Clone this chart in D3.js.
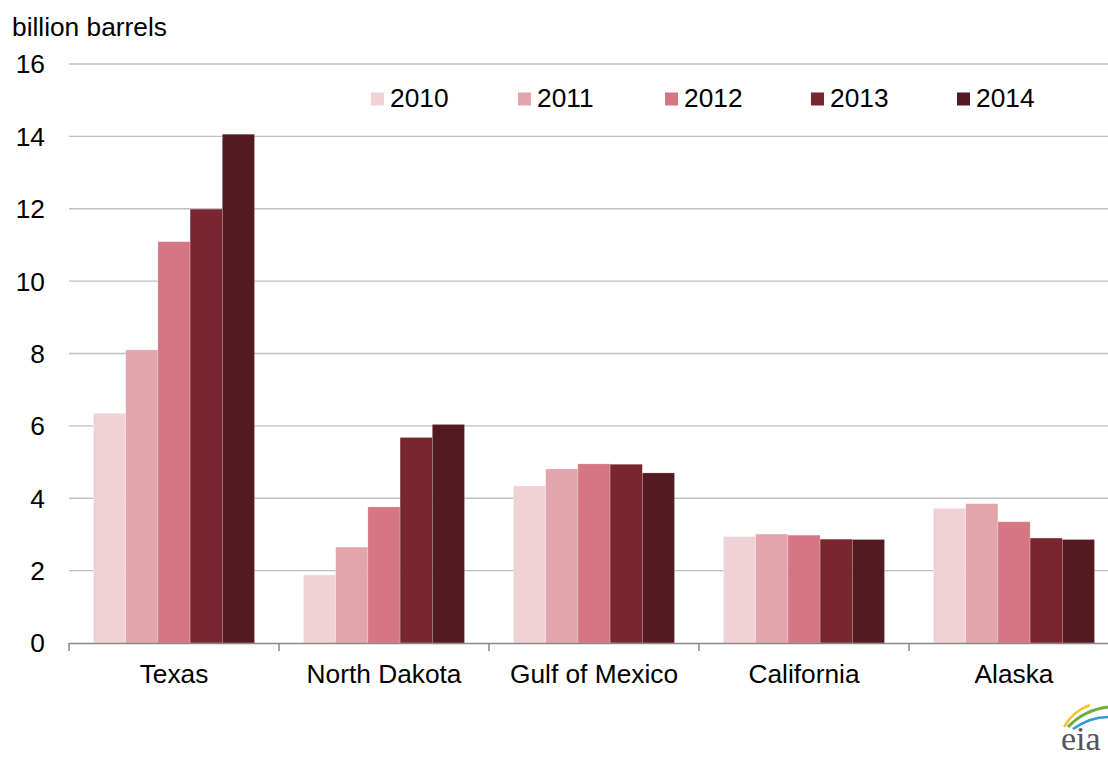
<!DOCTYPE html>
<html>
<head>
<meta charset="utf-8">
<script src="https://cdn.jsdelivr.net/npm/d3@7"></script>
<style>
  html, body { margin: 0; padding: 0; background: #fff; }
  svg { display: block; font-family: "Liberation Sans", Arial, sans-serif; }
</style>
</head>
<body>
<svg id="chart" width="1108" height="757"></svg>
<script>
const categories = ["Texas", "North Dakota", "Gulf of Mexico", "California", "Alaska"];
const years = ["2010", "2011", "2012", "2013", "2014"];
const v2010 = [6.35, 1.88, 4.34, 2.94, 3.72];
const v2011 = [8.10, 2.65, 4.81, 3.01, 3.85];
const v2012 = [11.09, 3.76, 4.95, 2.98, 3.35];
const v2013 = [11.99, 5.68, 4.94, 2.87, 2.90];
const v2014 = [14.06, 6.04, 4.70, 2.86, 2.86];
const seriesValues = [v2010, v2011, v2012, v2013, v2014];
const colors = ["#F0D1D6", "#E2A5AC", "#D57782", "#7A2631", "#541A21"];
const yTicks = [0, 2, 4, 6, 8, 10, 12, 14, 16];
const yLabel = "billion barrels";

const svg = d3.select("#chart");
const FS = 26.3;

const y = d3.scaleLinear().domain([0, 16]).range([643, 64]);
const x0 = d3.scaleBand().domain(categories).range([69, 1119]).paddingInner(0).paddingOuter(0);
const x1 = d3.scaleBand().domain(years).range([24.5, 210 - 24.5]).padding(0);

// gridlines
svg.append("g").selectAll("line").data(yTicks.filter(d => d > 0)).join("line")
  .attr("x1", 69).attr("x2", 1108)
  .attr("y1", d => y(d)).attr("y2", d => y(d))
  .attr("stroke", "#C0C0C0").attr("stroke-width", 1.4);

// y tick labels
svg.append("g").selectAll("text").data(yTicks).join("text")
  .attr("x", 45).attr("y", d => y(d)).attr("dy", "0.36em")
  .attr("text-anchor", "end").attr("font-size", FS).attr("fill", "#000")
  .text(d => d);

// y label
svg.append("text").attr("x", 12).attr("y", 36).attr("font-size", FS).attr("fill", "#000").text(yLabel);

// bars
const groups = svg.append("g").selectAll("g").data(categories).join("g")
  .attr("transform", d => `translate(${x0(d)},0)`);
groups.selectAll("rect")
  .data((c, i) => years.map((yr, j) => ({ yr, j, v: seriesValues[j][i] })))
  .join("rect")
  .attr("x", d => x1(d.yr)).attr("width", x1.bandwidth())
  .attr("y", d => y(d.v)).attr("height", d => y(0) - y(d.v))
  .attr("fill", d => colors[d.j])
  .attr("stroke", "rgba(255,255,255,0.35)").attr("stroke-width", 0.6);

// x axis
const xAxis = svg.append("g");
xAxis.append("line").attr("x1", 69).attr("x2", 1108).attr("y1", 643.5).attr("y2", 643.5)
  .attr("stroke", "#888").attr("stroke-width", 1.5);
const bounds = categories.map(c => x0(c)).concat([x0.range()[1]]);
xAxis.selectAll("line.tick").data(bounds).join("line").attr("class", "tick")
  .attr("x1", d => d).attr("x2", d => d).attr("y1", 643).attr("y2", 651)
  .attr("stroke", "#888").attr("stroke-width", 1.5);
xAxis.selectAll("text").data(categories).join("text")
  .attr("x", d => x0(d) + x0.bandwidth() / 2).attr("y", 683)
  .attr("text-anchor", "middle").attr("font-size", FS).attr("fill", "#000")
  .text(d => d);

// legend
const legendX = [371, 518, 665, 811, 957];
const leg = svg.append("g").selectAll("g").data(years).join("g")
  .attr("transform", (d, i) => `translate(${legendX[i]},0)`);
leg.append("rect").attr("x", 0).attr("y", 92.5).attr("width", 13).attr("height", 13)
  .attr("fill", (d, i) => colors[i]);
leg.append("text").attr("x", 19).attr("y", 107).attr("font-size", FS).attr("fill", "#000").text(d => d);

// eia logo
const logo = svg.append("g");
logo.append("path").attr("d", "M1064,727 Q1073,711 1090,705").attr("fill", "none").attr("stroke", "#F5C330").attr("stroke-width", 2.5);
logo.append("path").attr("d", "M1068,727 Q1084,710 1108,707").attr("fill", "none").attr("stroke", "#6AAE3E").attr("stroke-width", 3);
logo.append("path").attr("d", "M1073,729 Q1090,717 1108,717").attr("fill", "none").attr("stroke", "#2E9BD6").attr("stroke-width", 2.5);
logo.append("text").attr("x", 1061).attr("y", 750).attr("font-family", "'Liberation Serif', 'DejaVu Serif', serif")
  .attr("font-size", 34).attr("fill", "#555").text("eia");
</script>
</body>
</html>
